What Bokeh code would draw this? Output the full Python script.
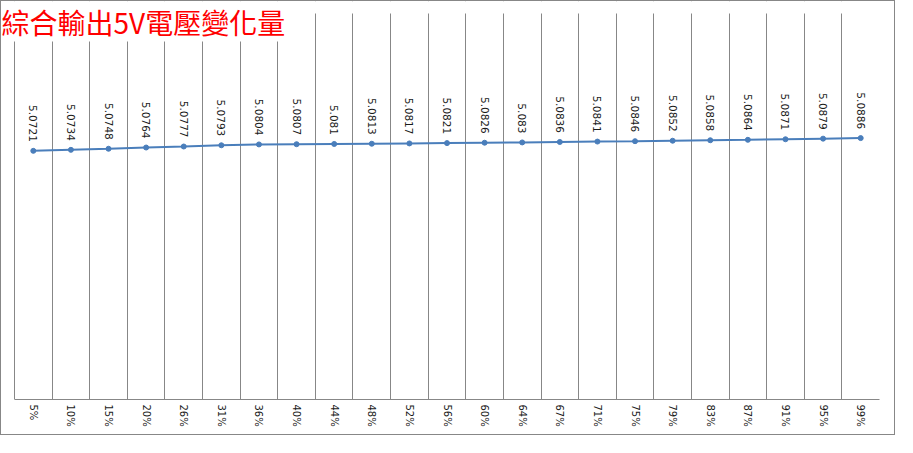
import math
from bokeh.plotting import figure
from bokeh.models import FixedTicker, ColumnDataSource, Label, BoxAnnotation
from bokeh.core.properties import value
from bokeh.embed import file_html
from bokeh.resources import INLINE

# ---- data ----
categories = ["5%", "10%", "15%", "20%", "26%", "31%", "36%", "40%", "44%", "48%", "52%", "56%",
              "60%", "64%", "67%", "71%", "75%", "79%", "83%", "87%", "91%", "95%", "99%"]
voltages = [5.0721, 5.0734, 5.0748, 5.0764, 5.0777, 5.0793, 5.0804, 5.0807, 5.081, 5.0813, 5.0817, 5.0821,
            5.0826, 5.083, 5.0836, 5.0841, 5.0846, 5.0852, 5.0858, 5.0864, 5.0871, 5.0879, 5.0886]
title_text = "綜合輸出5V電壓變化量"
y_min, y_max = 4.75, 5.25

# ---- layout (pixels) ----
W, H = 895, 435
right_pad, bottom_pad = 17, 37
left_gap, top_gap = 13, 12
frame_w = W - right_pad
frame_h = H - bottom_pad
n = len(categories)
cat_px = (frame_w - left_gap) / n
x_start = -0.5 - left_gap / cat_px
y_px = (frame_h - top_gap) / (y_max - y_min)
y_end = y_max + top_gap / y_px

xs = list(range(n))
src = ColumnDataSource(dict(x=xs, y=voltages, lbl=[f"{v:g}" for v in voltages]))

p = figure(width=W, height=H, output_backend="svg", toolbar_location=None,
           x_range=(x_start, n - 0.5), y_range=(y_min, y_end),
           y_axis_location=None,
           min_border_left=0, min_border_right=right_pad, min_border_top=0, min_border_bottom=bottom_pad,
           styles={"border": "1px solid #878787"})
p.outline_line_color = None
p.background_fill_color = "white"
p.border_fill_color = "white"

# grid at category boundaries
p.xgrid.ticker = FixedTicker(ticks=[i - 0.5 for i in range(n + 1)])
p.xgrid.grid_line_color = "#878787"
p.xgrid.grid_line_width = 1
p.ygrid.visible = False

ax = p.xaxis[0]
ax.ticker = FixedTicker(ticks=xs)
ax.bounds = (-0.5, n - 0.5)
ax.major_label_overrides = {i: c for i, c in enumerate(categories)}
ax.major_label_orientation = -math.pi / 2
ax.major_tick_out = 0
ax.major_tick_in = 0
ax.minor_tick_out = 0
ax.minor_tick_in = 0
ax.axis_line_color = "#878787"
ax.major_label_standoff = 5
ax.major_label_text_font = "DejaVu Sans"
ax.major_label_text_font_size = "10px"
ax.major_label_text_color = "#1a1a1a"

# white band above the plot area (gridlines start below it)
p.add_layout(BoxAnnotation(bottom=y_max, fill_color="white", fill_alpha=1.0, line_color=None))

p.line("x", "y", source=src, line_color="#4a7ebb", line_width=2)
p.scatter("x", "y", source=src, size=5, fill_color="#4a7ebb", line_color="#4a7ebb")
p.text("x", "y", text="lbl", source=src, angle=-math.pi / 2, text_align="right",
       text_baseline="middle", y_offset=-9, text_font=value("DejaVu Sans"),
       text_font_size="10.5px", text_color="#1a1a1a")

title = Label(x=x_start, y=y_end, text=title_text,
              text_align="left", text_baseline="top",
              text_font="Noto Sans CJK TC", text_font_size="28px", text_color="#ff0000",
              background_fill_color="white", background_fill_alpha=1.0)
p.add_layout(title)

open("out.html", "w").write(file_html(p, INLINE))
